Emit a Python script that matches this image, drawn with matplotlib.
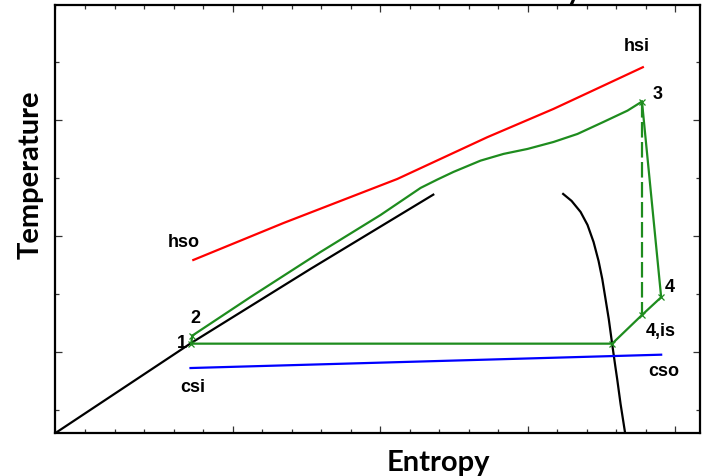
import numpy as np
import matplotlib
matplotlib.use("Agg")
import matplotlib.pyplot as plt

# cycle states (x = entropy, y = temperature, arbitrary units)
s_liq = [-0.2, 0.720, 1.528, 2.360]
t_liq = [0.302, 1.078, 1.716, 2.356]

s_vap = [3.240, 3.297, 3.358, 3.405, 3.446, 3.480, 3.505, 3.527, 3.549,
         3.572, 3.594, 3.606, 3.629, 3.660]
t_vap = [2.362, 2.302, 2.207, 2.095, 1.948, 1.784, 1.629, 1.457, 1.284,
         1.069, 0.871, 0.767, 0.552, 0.300]

s_heat = [0.727, 1.122, 1.596, 2.003, 2.138, 2.274, 2.389, 2.497, 2.680,
          2.836, 2.999, 3.175, 3.337, 3.514, 3.676, 3.774]
t_heat = [1.141, 1.474, 1.862, 2.181, 2.297, 2.414, 2.487, 2.552, 2.649,
          2.707, 2.750, 2.810, 2.879, 2.983, 3.080, 3.158]

s_hot = [0.734, 1.346, 2.116, 2.726, 3.175, 3.514, 3.780]
t_hot = [1.793, 2.112, 2.491, 2.851, 3.095, 3.296, 3.454]

s_cold = [0.715, 3.904]
t_cold = [0.862, 0.977]

# 1 -> 2 pump, 3 -> 4 expander, 4 -> sat. vapour -> 1 condenser
s_pump = [0.720, 0.727]
t_pump = [1.072, 1.141]
s_exp = [3.774, 3.904, 3.774, 3.572, 0.720]
t_exp = [3.158, 1.472, 1.319, 1.072, 1.072]
s_exp_is = [3.774, 3.774]
t_exp_is = [3.158, 1.319]
s_marks = [0.720, 0.727, 3.774, 3.904, 3.774, 3.572]
t_marks = [1.072, 1.141, 3.158, 1.472, 1.319, 1.072]

labels = ["hsi", "3", "4", "4,is", "cso", "2", "1", "hso", "csi"]
label_s = [3.737, 3.882, 3.963, 3.900, 3.920, 0.749, 0.659, 0.670, 0.727]
label_t = [3.638, 3.229, 1.563, 1.184, 0.839, 1.299, 1.084, 1.951, 0.704]

green = "#1e8c1e"

fig = plt.figure(figsize=(7.03, 4.77), dpi=100)
ax = fig.add_axes([0.0789, 0.0901, 0.9168, 0.8973])

ax.plot(s_liq, t_liq, color="black", lw=1.6)
ax.plot(s_vap, t_vap, color="black", lw=1.6)
ax.plot(s_hot, t_hot, color="#ff0000", lw=1.6)
ax.plot(s_cold, t_cold, color="#0000ff", lw=1.6)
ax.plot(s_heat, t_heat, color=green, lw=1.6)
ax.plot(s_pump, t_pump, color=green, lw=1.6)
ax.plot(s_exp, t_exp, color=green, lw=1.6)
ax.plot(s_exp_is, t_exp_is, color=green, lw=1.6, linestyle=(0, (7, 2)))
ax.plot(s_marks, t_marks, linestyle="none", marker="x", color=green,
        ms=5, mew=0.9)

lab_font = ["Liberation Sans", "DejaVu Sans"]
for txt, xs, ys in zip(labels, label_s, label_t):
    ax.text(xs, ys, txt, ha="center", va="center", fontsize=13,
            fontweight="bold", family=lab_font)

ax.set_xlim(-0.2, 4.167)
ax.set_ylim(0.302, 3.99)
ax.set_xticks([1, 2, 3, 4])
ax.set_xticks(np.arange(-0.2, 4.2, 0.2), minor=True)
ax.set_yticks([1, 2, 3])
ax.set_yticks([0.5, 1.5, 2.5, 3.5], minor=True)
ax.tick_params(which="both", direction="in", top=True, right=True,
               labelbottom=False, labelleft=False, color="#333333")
ax.tick_params(which="major", length=4.8, width=0.9)
ax.tick_params(which="minor", length=2.9, width=0.9)
for sp in ax.spines.values():
    sp.set_linewidth(1.6)

ax_font = ["Lato", "DejaVu Sans"]
fig.text(0.623, 0.012, "Entropy", ha="center", va="baseline", fontsize=21,
         fontweight="bold", family=ax_font)
fig.text(0.043, 0.633, "Temperature", ha="center", va="center",
         rotation=90, fontsize=21, fontweight="bold", family=ax_font)
# title sits above the frame, only the tail of its last letter is visible
fig.text(0.8165, 1.0, "y", ha="center", va="baseline",
         fontsize=21, fontweight="bold", family=ax_font)

fig.savefig("out.png", dpi=100)
